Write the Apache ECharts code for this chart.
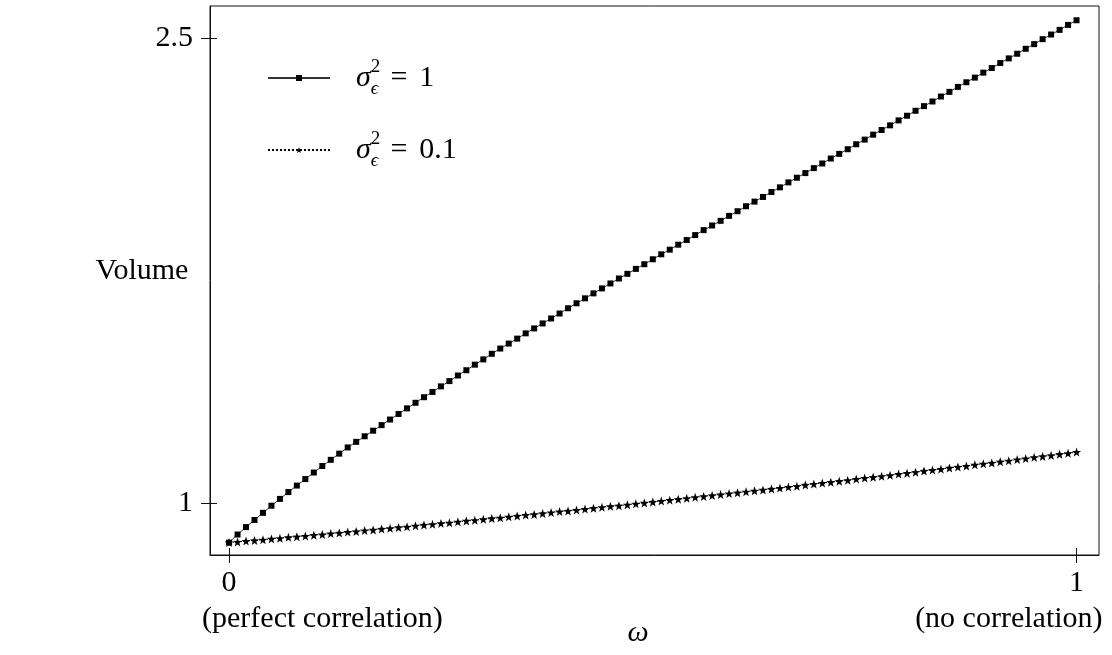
<!DOCTYPE html>
<html>
<head>
<meta charset="utf-8">
<title>Volume vs omega</title>
<script src="https://cdn.jsdelivr.net/npm/echarts@6/dist/echarts.min.js"></script>
</head>
<body style="margin:0;background:#fff">
<div id="main" style="width:1112px;height:655px;"></div>
<script>
// omega from 0 (perfect correlation) to 1 (no correlation)
var omega = [0, 0.01, 0.02, 0.03, 0.04, 0.05, 0.06, 0.07, 0.08, 0.09,
  0.1, 0.11, 0.12, 0.13, 0.14, 0.15, 0.16, 0.17, 0.18, 0.19,
  0.2, 0.21, 0.22, 0.23, 0.24, 0.25, 0.26, 0.27, 0.28, 0.29,
  0.3, 0.31, 0.32, 0.33, 0.34, 0.35, 0.36, 0.37, 0.38, 0.39,
  0.4, 0.41, 0.42, 0.43, 0.44, 0.45, 0.46, 0.47, 0.48, 0.49,
  0.5, 0.51, 0.52, 0.53, 0.54, 0.55, 0.56, 0.57, 0.58, 0.59,
  0.6, 0.61, 0.62, 0.63, 0.64, 0.65, 0.66, 0.67, 0.68, 0.69,
  0.7, 0.71, 0.72, 0.73, 0.74, 0.75, 0.76, 0.77, 0.78, 0.79,
  0.8, 0.81, 0.82, 0.83, 0.84, 0.85, 0.86, 0.87, 0.88, 0.89,
  0.9, 0.91, 0.92, 0.93, 0.94, 0.95, 0.96, 0.97, 0.98, 0.99, 1];

// sigma_eps^2 = 1
var volSigma1 = [0.872, 0.898, 0.922, 0.945, 0.968, 0.991, 1.013, 1.035, 1.056, 1.077,
  1.098, 1.119, 1.139, 1.159, 1.179, 1.197, 1.215, 1.233, 1.251, 1.269,
  1.287, 1.305, 1.323, 1.341, 1.358, 1.376, 1.393, 1.411, 1.428, 1.446,
  1.463, 1.481, 1.498, 1.514, 1.530, 1.547, 1.563, 1.579, 1.595, 1.611,
  1.628, 1.644, 1.660, 1.676, 1.692, 1.708, 1.724, 1.739, 1.755, 1.770,
  1.786, 1.802, 1.817, 1.833, 1.848, 1.864, 1.880, 1.895, 1.910, 1.926,
  1.941, 1.957, 1.972, 1.987, 2.003, 2.018, 2.034, 2.049, 2.064, 2.080,
  2.095, 2.111, 2.126, 2.141, 2.157, 2.172, 2.188, 2.203, 2.218, 2.234,
  2.249, 2.265, 2.280, 2.295, 2.311, 2.326, 2.342, 2.357, 2.372, 2.388,
  2.403, 2.419, 2.434, 2.449, 2.465, 2.480, 2.496, 2.511, 2.526, 2.542, 2.557];

// sigma_eps^2 = 0.1
var volSigma01 = [0.872, 0.874, 0.877, 0.879, 0.881, 0.884, 0.886, 0.889, 0.891, 0.893,
  0.896, 0.898, 0.901, 0.903, 0.906, 0.908, 0.911, 0.913, 0.916, 0.918,
  0.921, 0.923, 0.926, 0.929, 0.931, 0.934, 0.936, 0.939, 0.942, 0.944,
  0.947, 0.950, 0.952, 0.955, 0.958, 0.961, 0.963, 0.966, 0.969, 0.972,
  0.974, 0.977, 0.980, 0.983, 0.986, 0.989, 0.991, 0.994, 0.997, 1.000,
  1.003, 1.006, 1.009, 1.012, 1.015, 1.018, 1.021, 1.024, 1.027, 1.030,
  1.033, 1.036, 1.039, 1.042, 1.045, 1.048, 1.051, 1.054, 1.058, 1.061,
  1.064, 1.067, 1.070, 1.073, 1.077, 1.080, 1.083, 1.086, 1.089, 1.093,
  1.096, 1.099, 1.103, 1.106, 1.109, 1.113, 1.116, 1.119, 1.123, 1.126,
  1.129, 1.133, 1.136, 1.140, 1.143, 1.147, 1.150, 1.153, 1.157, 1.160, 1.164];

var xTicks = [0, 1];
var xTickNotes = ['(perfect correlation)', '(no correlation)'];
var yTicks = [1, 2.5];

var serif = 'Liberation Serif';
var ink = '#111';
var starPath = 'path://M12,0 L14.9,8.2 L23.5,8.4 L16.7,13.6 L19.1,21.9 L12,17 L4.9,21.9 L7.3,13.6 L0.5,8.4 L9.1,8.2 Z';

function pairs(ys) {
  var out = [];
  for (var i = 0; i < omega.length; i++) out.push([omega[i], ys[i]]);
  return out;
}

var legendText = {
  s1: '{m|σ}{sup|2}{sub|ϵ}{g|}{t|=}{g|}{t|1}',
  s01: '{m|σ}{sup|2}{sub|ϵ}{g|}{t|=}{g|}{t|0.1}'
};

var myChart = echarts.init(document.getElementById('main'));

var xRange = { min: -0.0225, max: 1.0265 };
var yRange = { min: 0.832, max: 2.603 };
var box = { left: 210, right: 13, top: 6, bottom: 100 };

var option = {
  animation: false,
  backgroundColor: '#fff',
  grid: [
    Object.assign({ show: true, borderColor: ink, borderWidth: 1 }, box),
    // same rectangle, only for the inner half of the ticks
    Object.assign({ show: false }, box)
  ],
  legend: {
    data: ['s1', 's01'],
    orient: 'vertical',
    left: 267, top: 58,
    padding: 0,
    itemWidth: 62, itemHeight: 7.5,
    itemGap: 32,
    formatter: function (name) { return legendText[name]; },
    textStyle: {
      color: '#000',
      padding: [0, 0, 0, 21],
      rich: {
        m: { fontFamily: serif, fontStyle: 'italic', fontSize: 30, lineHeight: 40, color: '#000' },
        sup: { fontFamily: serif, fontSize: 19, lineHeight: 24, verticalAlign: 'top', width: 0, color: '#000' },
        sub: { fontFamily: serif, fontStyle: 'italic', fontSize: 19, lineHeight: 26, verticalAlign: 'bottom', color: '#000' },
        g: { width: 12, lineHeight: 40 },
        t: { fontFamily: serif, fontSize: 30, lineHeight: 40, color: '#000' }
      }
    }
  },
  xAxis: [{
    type: 'value', gridIndex: 0, min: xRange.min, max: xRange.max,
    axisLine: { show: true, onZero: false, lineStyle: { color: ink, width: 1 } },
    axisTick: { show: true, customValues: xTicks, length: 8, lineStyle: { color: ink } },
    axisLabel: {
      customValues: xTicks, margin: 13,
      fontFamily: serif, fontSize: 30, color: '#000',
      formatter: function (v) { return String(v); }
    },
    splitLine: { show: false }
  }, {
    type: 'value', gridIndex: 1, min: xRange.min, max: xRange.max, position: 'bottom',
    axisLine: { show: false, onZero: false },
    axisTick: { show: true, inside: true, customValues: xTicks, length: 7, lineStyle: { color: ink } },
    axisLabel: { show: false },
    splitLine: { show: false }
  }],
  yAxis: [{
    type: 'value', gridIndex: 0, min: yRange.min, max: yRange.max,
    axisLine: { show: true, onZero: false, lineStyle: { color: ink, width: 1 } },
    axisTick: { show: true, customValues: yTicks, length: 9, lineStyle: { color: ink } },
    axisLabel: {
      customValues: yTicks, margin: 17,
      fontFamily: serif, fontSize: 30, color: '#000',
      formatter: function (v) { return String(v); }
    },
    splitLine: { show: false }
  }, {
    type: 'value', gridIndex: 1, min: yRange.min, max: yRange.max, position: 'left',
    axisLine: { show: false, onZero: false },
    axisTick: { show: true, inside: true, customValues: yTicks, length: 7, lineStyle: { color: ink } },
    axisLabel: { show: false },
    splitLine: { show: false }
  }],
  series: [{
    name: 's01',
    type: 'line',
    z: 2,
    data: pairs(volSigma01),
    showAllSymbol: true,
    symbol: starPath,
    symbolSize: 9,
    itemStyle: { color: '#000' },
    lineStyle: { color: '#000', width: 1, type: 'dotted' }
  }, {
    name: 's1',
    type: 'line',
    z: 3,
    data: pairs(volSigma1),
    showAllSymbol: true,
    symbol: 'rect',
    symbolSize: 6,
    itemStyle: { color: '#000' },
    lineStyle: { color: '#333', width: 1 }
  }]
};
myChart.setOption(option);

// second line of the x tick labels, the axis titles
var x0 = myChart.convertToPixel({ xAxisIndex: 0 }, xTicks[0]);
var x1 = myChart.convertToPixel({ xAxisIndex: 0 }, xTicks[1]);
var noteStyle = { fontFamily: serif, fontSize: 30, fill: '#000' };
myChart.setOption({
  graphic: [
    { type: 'text', left: x0 - 27, top: 604, style: Object.assign({ text: xTickNotes[0] }, noteStyle) },
    { type: 'text', right: 1112 - (x1 + 26), top: 604, style: Object.assign({ text: xTickNotes[1] }, noteStyle) },
    { type: 'text', x: 638, y: 633, style: { text: 'ω', fontFamily: serif, fontStyle: 'italic', fontSize: 30, fill: '#000', align: 'center', verticalAlign: 'middle' } },
    { type: 'text', x: 142, y: 271, style: { text: 'Volume', fontFamily: serif, fontSize: 30, fill: '#000', align: 'center', verticalAlign: 'middle' } }
  ]
});
</script>
</body>
</html>
